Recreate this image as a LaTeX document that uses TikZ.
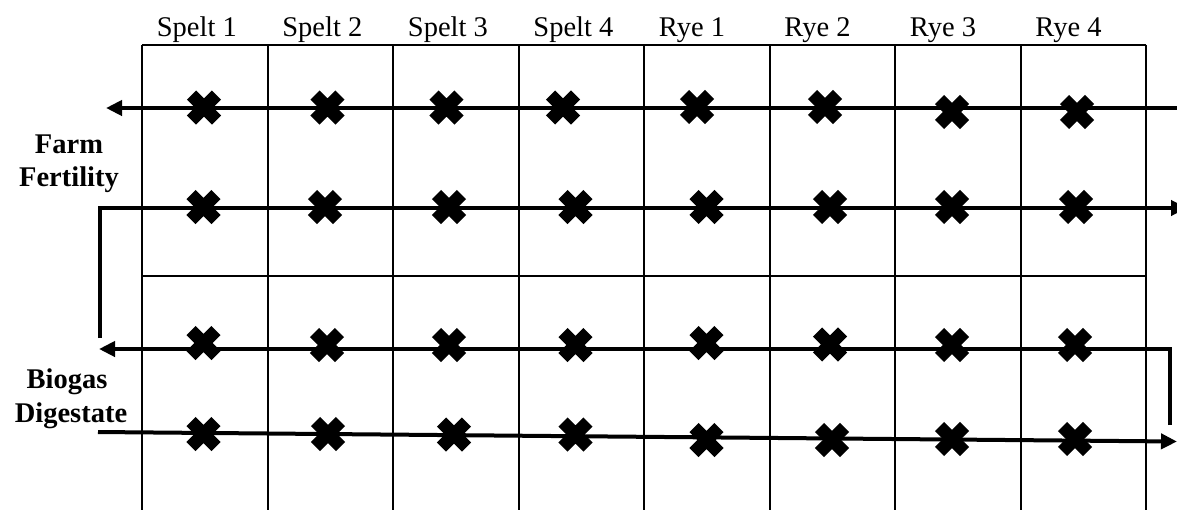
\documentclass[tikz,border=0pt]{standalone}
\usepackage{fontspec}
\setmainfont{Liberation Serif}
\usetikzlibrary{arrows.meta}
\begin{document}
\begin{tikzpicture}[x=0.5pt,y=-0.5pt,
  gridline/.style={line width=1pt},
  flow/.style={line width=2pt,-{Triangle[length=8pt,width=7.5pt]}},
  lab/.style={font=\fontsize{14.25}{17}\selectfont, inner sep=0pt, anchor=base west},
  side/.style={font=\fontsize{14.25}{17}\selectfont\bfseries, inner sep=0pt, anchor=base},
  xmk/.pic={\draw[line width=6.4pt,line cap=butt] (-12.5,-12.5) -- (12.5,12.5) (-12.5,12.5) -- (12.5,-12.5);}]
\useasboundingbox (0,0) rectangle (1177,510);
% grid
\foreach \i in {0,...,8} {
  \coordinate (ct\i) at ({142+125.5*\i},44.7);
  \coordinate (cb\i) at ({142+125.5*\i},510);
  \draw[gridline] (ct\i) -- (cb\i);
}
\draw[gridline] (ct0) -- (ct8);
\coordinate (ml) at (142,276);
\coordinate (mr) at (1146,276);
\draw[gridline] (ml) -- (mr);
% column labels
\foreach \t [count=\i from 0] in {Spelt 1,Spelt 2,Spelt 3,Spelt 4,Rye 1,Rye 2,Rye 3,Rye 4}
  \node[lab] (h\i) at ({156.5+125.5*\i},36.7) {\t};
% side labels
\node[side] (farm) at (69,153) {Farm};
\node[side] (fert) at (69,186.5) {Fertility};
\node[side] (bio) at (67,388) {Biogas};
\node[side] (dig) at (71,422) {Digestate};
% flow arrows
\coordinate (r1s) at (1177,108);
\coordinate (r1e) at (106,108);
\coordinate (r2s) at (100,338);
\coordinate (r2e) at (1187,208);
\coordinate (r3s) at (1170,425);
\coordinate (r3e) at (99,349);
\coordinate (r4s) at (98,432);
\coordinate (r4e) at (1177,441.5);
\draw[flow] (r1s) -- (r1e);
\draw[flow] (r2s) |- (r2e);
\draw[flow] (r3s) |- (r3e);
\draw[flow] (r4s) -- (r4e);
% crosses
\foreach \p in {(204,107.5),(327.5,107.5),(446.5,107.5),(563,107.5),(697,107),(825,107),(952,112),(1077,112),
  (203.5,207),(325,207),(449,207),(575.5,207),(706.5,207),(830,207),(952,207),(1076,207),
  (203.5,343),(327,345),(449,345),(575.5,345),(706.5,343),(830,344.5),(952,345),(1075,345),
  (203.5,434),(328,434),(454,434.5),(575.5,434.5),(706.5,440),(832,440),(952,439),(1075,439)}
  \pic at \p {xmk};
\end{tikzpicture}
\end{document}
